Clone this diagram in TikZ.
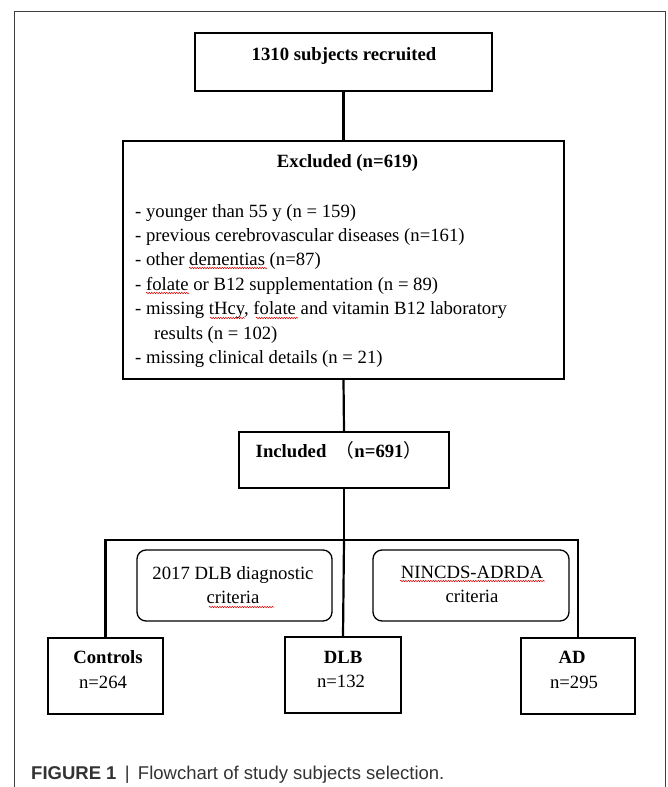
\documentclass[tikz,border=0pt]{standalone}
\usepackage{fontspec}
\setmainfont{Liberation Serif}
\newfontfamily\capfont{Liberation Sans}
\newfontfamily\cjk{Noto Sans CJK SC}
\usetikzlibrary{decorations.pathmorphing}
\definecolor{capgray}{HTML}{333333}
\begin{document}
\begin{tikzpicture}[x=1pt,y=-1pt,
 box/.style={draw=black, line width=1.3pt, inner sep=0pt},
 rbox/.style={box, rounded corners=9pt},
 conn/.style={line width=2.2pt},
 txt/.style={anchor=base, font=\fontsize{18.7}{22}\selectfont, inner sep=0pt},
 btxt/.style={anchor=base, font=\fontsize{18.7}{22}\selectfont\bfseries, inner sep=0pt},
 ltxt/.style={anchor=base west, font=\fontsize{18.7}{22}\selectfont, inner sep=0pt},
 wave/.style={red!85!black, line width=0.5pt, decorate, decoration={snake, amplitude=0.7pt, segment length=2.5pt}},
]
\useasboundingbox (0,0) rectangle (668,787);
\fill[white] (0,0) rectangle (668,787);
\draw[black!75, line width=1pt] (14,787) -- (14,11) -- (665,11) -- (665,787);

% boxes
\node[box, minimum width=297pt, minimum height=58pt] (rec) at (343.5,62) {};
\node[box, minimum width=441pt, minimum height=238pt] (exc) at (343.5,260) {};
\node[box, minimum width=210pt, minimum height=56pt] (inc) at (344,460) {};
\node[rbox, minimum width=195pt, minimum height=71pt] (crit1) at (234.5,585.5) {};
\node[rbox, minimum width=196pt, minimum height=71pt] (crit2) at (471,585.5) {};
\node[box, minimum width=115pt, minimum height=76pt] (ctl) at (105.5,676) {};
\node[box, minimum width=116pt, minimum height=76pt] (dlb) at (343,675) {};
\node[box, minimum width=114pt, minimum height=76pt] (ad) at (578,676) {};

% texts
\node[btxt] (t1) at (344,60) {1310 subjects recruited};
\node[btxt] (t2) at (347.5,167) {Excluded (n=619)};
\node[ltxt] (e1) at (135,217) {- younger than 55 y (n = 159)};
\node[ltxt] (e2) at (135,241.4) {- previous cerebrovascular diseases (n=161)};
\node[ltxt] (e3) at (135,265.8) {- other dementias (n=87)};
\node[ltxt] (e4) at (135,290.2) {- folate or B12 supplementation (n = 89)};
\node[ltxt] (e5) at (135,314.6) {- missing tHcy, folate and vitamin B12 laboratory};
\node[ltxt] (e6) at (154,339) {results (n = 102)};
\node[ltxt] (e7) at (135,363.4) {- missing clinical details (n = 21)};
\node[btxt] (t3) at (339,457) {Included\hspace{0.5em}{\cjk\mdseries （}n=691{\cjk\mdseries ）}};
\node[txt] (c1a) at (233,579) {2017 DLB diagnostic};
\node[txt] (c1b) at (233,603) {criteria};
\node[txt] (c2a) at (472,578) {NINCDS-ADRDA};
\node[txt] (c2b) at (472,602) {criteria};
\node[btxt] (g1) at (108,663) {Controls};
\node[txt] (g1n) at (103,688) {n=264};
\node[btxt] (g2) at (343,663) {DLB};
\node[txt] (g2n) at (341,687) {n=132};
\node[btxt] (g3) at (572,663) {AD};
\node[txt] (g3n) at (574,688) {n=295};

% connectors
\coordinate (bar) at (344,540);
\draw[conn] (rec.south) -- (exc.north);
\draw[conn] (exc.south) -- (inc.north);
\draw[conn] (inc.south) -- (bar);
\draw[conn] (ctl.north) |- (bar) -| (ad.north);
\draw[conn] (bar) -- (dlb.north);

% spell-check underlines
\draw[wave] (189,268) -- (267,268);
\draw[wave] (146,293) -- (189,293);
\draw[wave] (210,318) -- (245,318);
\draw[wave] (256,318) -- (298,318);
\draw[wave] (209,607) -- (274,607);
\draw[wave] (400,581) -- (545,581);

% caption
\node[anchor=base west, inner sep=0pt, text=capgray, font=\capfont\fontsize{18.5}{22}\selectfont] (cap) at (31,779) {\textbf{FIGURE 1}\hspace{0.45em}|\hspace{0.45em}Flowchart of study subjects selection.};
\end{tikzpicture}
\end{document}
